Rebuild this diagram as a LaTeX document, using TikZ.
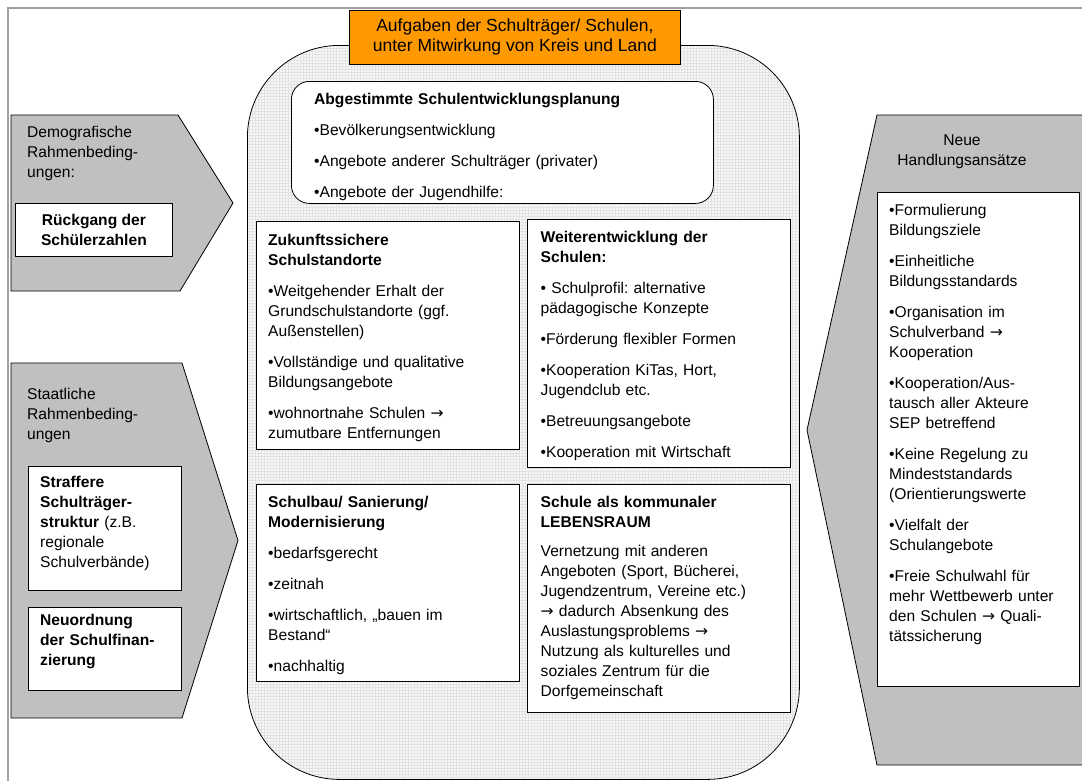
\documentclass[tikz,border=0pt]{standalone}
\usepackage{fontspec}
\setmainfont{Liberation Sans}
\newfontfamily\arrowfont{DejaVu Sans}
\frenchspacing
\usetikzlibrary{calc, patterns}
\definecolor{taskorange}{RGB}{255, 153, 0}
\definecolor{panelgray}{RGB}{192, 192, 192}
\definecolor{framegray}{RGB}{160, 160, 160}
\definecolor{areagray}{RGB}{248, 248, 248}
\newcommand{\bodyfont}{\fontsize{15.6}{20}\selectfont}
\newcommand{\titlefont}{\fontsize{17.5}{20}\selectfont}
\newcommand{\arr}{{\arrowfont →}}
\tikzset{
    outerframe/.style={
        draw=framegray,
        line width=1.5pt,
    },
    sidepanel/.style={
        draw=black,
        fill=panelgray,
        line width=0.8pt,
    },
    schoolarea/.style={
        draw=black,
        line width=0.8pt,
        rounded corners=92pt,
        preaction={fill=areagray},
        pattern=grid,
        pattern color=black!11,
        inner sep=0pt,
    },
    titlebox/.style={
        draw=black,
        fill=taskorange,
        line width=0.8pt,
        font=\titlefont,
        align=center,
        inner sep=0pt,
    },
    whitebox/.style={
        draw=black,
        fill=white,
        line width=0.8pt,
        inner sep=0pt,
        anchor=north west,
    },
    planbox/.style={
        whitebox,
        rounded corners=18pt,
    },
    keybox/.style={
        whitebox,
        font=\bodyfont\bfseries,
        align=center,
    },
    boxtext/.style={
        font=\bodyfont,
        text width=#1,
        align=left,
        inner sep=0pt,
        anchor=base west,
    },
    boxtext/.default=260pt,
}

\begin{document}
\begin{tikzpicture}[x=1pt, y=-1pt]
\useasboundingbox (0,0) rectangle (1082,780);
\clip (0,0) rectangle (1082,780);

% ===== Rahmen =====
\draw[outerframe] (8,790) -- (8,8) -- (1090,8);

% ===== Aufgaben (Mitte) =====
\node[schoolarea, minimum width=552pt, minimum height=734pt, anchor=north west] (area) at (247,45) {};
\node[titlebox, minimum width=331pt, minimum height=54pt, anchor=north west] (title) at (349,10) {Aufgaben der Schulträger/ Schulen,\\unter Mitwirkung von Kreis und Land};

% Schulentwicklungsplanung
\node[planbox, minimum width=422pt, minimum height=122pt] (plan) at (291,81) {};
\node[boxtext=400pt] (plantext) at ($(plan.north west)+(23,23)$) {\textbf{Abgestimmte Schulentwicklungsplanung}\\[11pt]
    •Bevölkerungsentwicklung\\[11pt]
    •Angebote anderer Schulträger (privater)\\[11pt]
    •Angebote der Jugendhilfe:};

% Schulstandorte
\node[whitebox, minimum width=263pt, minimum height=228pt] (zukunft) at (256,221) {};
\node[boxtext] (zukunfttext) at ($(zukunft.north west)+(12,24)$) {\textbf{Zukunftssichere}\\\textbf{Schulstandorte}\\[11pt]
    •Weitgehender Erhalt der\\Grundschulstandorte (ggf.\\Außenstellen)\\[11pt]
    •Vollständige und qualitative\\Bildungsangebote\\[11pt]
    •wohnortnahe Schulen \arr\\zumutbare Entfernungen};

% Weiterentwicklung
\node[whitebox, minimum width=263pt, minimum height=248pt] (weiter) at (527,219) {};
\node[boxtext] (weitertext) at ($(weiter.north west)+(13.5,23)$) {\textbf{Weiterentwicklung der}\\\textbf{Schulen:}\\[11pt]
    • Schulprofil: alternative\\pädagogische Konzepte\\[11pt]
    •Förderung flexibler Formen\\[11pt]
    •Kooperation KiTas, Hort,\\Jugendclub etc.\\[11pt]
    •Betreuungsangebote\\[11pt]
    •Kooperation mit Wirtschaft};

% Schulbau
\node[whitebox, minimum width=263pt, minimum height=197pt] (schulbau) at (256,484) {};
\node[boxtext] (schulbautext) at ($(schulbau.north west)+(12,23.5)$) {\textbf{Schulbau/ Sanierung/}\\\textbf{Modernisierung}\\[11pt]
    •bedarfsgerecht\\[11pt]
    •zeitnah\\[11pt]
    •wirtschaftlich, „bauen im\\Bestand“\\[11pt]
    •nachhaltig};

% Lebensraum
\node[whitebox, minimum width=263pt, minimum height=228pt] (lebensraum) at (527,484) {};
\node[boxtext] (lebensraumtext) at ($(lebensraum.north west)+(13.5,23.5)$) {\textbf{Schule als kommunaler}\\\textbf{LEBENSRAUM}\\[9pt]
    Vernetzung mit anderen\\Angeboten (Sport, Bücherei,\\Jugendzentrum, Vereine etc.)\\\arr{} dadurch Absenkung des\\Auslastungsproblems \arr\\Nutzung als kulturelles und\\soziales Zentrum für die\\Dorfgemeinschaft};

% ===== Rahmenbedingungen (links) =====
\draw[sidepanel] (11,115) -- (178,115) -- (233,203) -- (180,291) -- (11,291) -- cycle;
\node[boxtext=150pt] (demotext) at (27,137.7) {Demografische\\Rahmenbeding-\\ungen:};
\node[keybox, minimum width=157pt, minimum height=53pt] (rueckgang) at (15,203) {Rückgang der\\Schülerzahlen};

\draw[sidepanel] (11,363) -- (182,363) -- (238,540.5) -- (182,718) -- (11,718) -- cycle;
\node[boxtext=150pt] (staattext) at (27,399) {Staatliche\\Rahmenbeding-\\ungen};
\node[whitebox, minimum width=153pt, minimum height=124pt] (struktur) at (28,466) {};
\node[boxtext=150pt] (strukturtext) at ($(struktur.north west)+(12,21.5)$) {\textbf{Straffere}\\\textbf{Schulträger-}\\\textbf{struktur} (z.B.\\regionale\\Schulverbände)};
\node[whitebox, minimum width=153pt, minimum height=83pt] (finanz) at (28,607) {};
\node[boxtext=150pt] (finanztext) at ($(finanz.north west)+(12,18)$) {\textbf{Neuordnung}\\\textbf{der Schulfinan-}\\\textbf{zierung}};

% ===== Neue Handlungsansaetze (rechts) =====
\draw[sidepanel] (877,115) -- (1090,115) -- (1090,765) -- (877,765) -- (807,430) -- cycle;
\node[font=\bodyfont, text width=200pt, align=center, inner sep=0pt, anchor=base] (neutext) at (962,145.7) {Neue\\Handlungsansätze};
\node[whitebox, minimum width=202pt, minimum height=494pt] (ansatz) at (877,192) {};
\node[boxtext=200pt] (ansatztext) at ($(ansatz.north west)+(12,23.7)$) {•Formulierung\\Bildungsziele\\[11pt]
    •Einheitliche\\Bildungsstandards\\[11pt]
    •Organisation im\\Schulverband \arr\\Kooperation\\[11pt]
    •Kooperation/Aus-\\tausch aller Akteure\\SEP betreffend\\[11pt]
    •Keine Regelung zu\\Mindeststandards\\(Orientierungswerte\\[11pt]
    •Vielfalt der\\Schulangebote\\[11pt]
    •Freie Schulwahl für\\mehr Wettbewerb unter\\den Schulen \arr{} Quali-\\tätssicherung};

\end{tikzpicture}
\end{document}
